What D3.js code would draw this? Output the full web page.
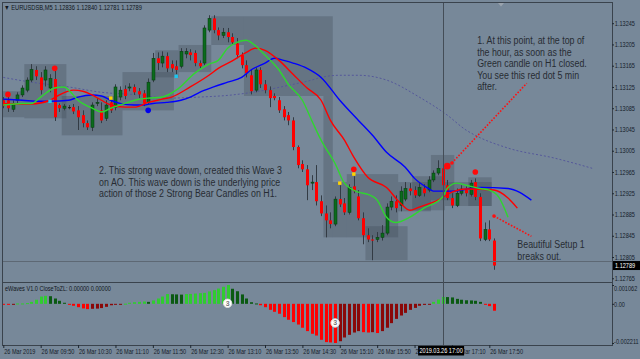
<!DOCTYPE html>
<html><head><meta charset="utf-8">
<script src="https://cdn.jsdelivr.net/npm/d3@7"></script>
<style>
html,body{margin:0;padding:0;background:#778899;overflow:hidden;}
svg{display:block;}
.ax text{font-family:"Liberation Sans",Arial,sans-serif;font-size:6.8px;fill:#16202a;}
.note{font-family:"Liberation Sans",Arial,sans-serif;font-size:10.8px;fill:#272c33;}
</style></head><body>
<svg id="c" width="640" height="359"></svg>
<script>
// ---------------- DATA ----------------
const symbolTitle = "EURUSDSB,M5";
const headerOHLC = ["1.12836", "1.12840", "1.12781", "1.12789"];
const indicatorTitle = "eWaves V1.0 CloseToZL: 0.00000 0.00000";
// M5 candles, bar 0 = 26 Mar 2019 09:10 ; [open, high, low, close]
const candles = [
[1.13100,1.13106,1.13085,1.13089],[1.13100,1.13108,1.13078,1.13085],[1.13083,1.13100,1.13078,1.13094],
[1.13100,1.13115,1.13093,1.13110],[1.13110,1.13128,1.13106,1.13123],[1.13119,1.13143,1.13115,1.13138],
[1.13138,1.13168,1.13134,1.13158],[1.13157,1.13164,1.13138,1.13145],[1.13143,1.13153,1.13111,1.13119],
[1.13138,1.13164,1.13126,1.13157],[1.13123,1.13149,1.13115,1.13141],[1.13140,1.13157,1.13061,1.13068],
[1.13091,1.13094,1.13078,1.13085],[1.13085,1.13093,1.13081,1.13089],[1.13087,1.13091,1.13083,1.13087],
[1.13087,1.13093,1.13074,1.13079],[1.13081,1.13089,1.13044,1.13068],[1.13072,1.13081,1.13049,1.13057],
[1.13057,1.13062,1.13044,1.13049],[1.13049,1.13096,1.13042,1.13091],[1.13094,1.13104,1.13089,1.13096],
[1.13081,1.13096,1.13057,1.13062],[1.13066,1.13100,1.13061,1.13091],[1.13096,1.13104,1.13076,1.13081],
[1.13087,1.13130,1.13081,1.13125],[1.13106,1.13126,1.13100,1.13119],[1.13121,1.13128,1.13102,1.13108],
[1.13123,1.13132,1.13117,1.13125],[1.13125,1.13130,1.13110,1.13115],[1.13117,1.13123,1.13104,1.13111],
[1.13113,1.13119,1.13089,1.13094],[1.13096,1.13141,1.13093,1.13134],[1.13138,1.13189,1.13134,1.13179],
[1.13179,1.13190,1.13157,1.13170],[1.13170,1.13192,1.13162,1.13183],[1.13183,1.13190,1.13153,1.13160],
[1.13168,1.13175,1.13153,1.13160],[1.13164,1.13175,1.13149,1.13157],[1.13164,1.13198,1.13160,1.13192],
[1.13187,1.13198,1.13179,1.13192],[1.13190,1.13196,1.13175,1.13185],[1.13189,1.13194,1.13164,1.13170],
[1.13170,1.13175,1.13160,1.13164],[1.13170,1.13241,1.13166,1.13236],[1.13232,1.13260,1.13228,1.13254],
[1.13254,1.13260,1.13226,1.13232],[1.13232,1.13237,1.13213,1.13222],[1.13222,1.13236,1.13217,1.13228],
[1.13228,1.13236,1.13209,1.13219],[1.13219,1.13226,1.13204,1.13209],[1.13207,1.13217,1.13179,1.13185],
[1.13185,1.13190,1.13160,1.13166],[1.13166,1.13175,1.13143,1.13151],[1.13147,1.13157,1.13111,1.13117],
[1.13119,1.13162,1.13115,1.13157],[1.13157,1.13162,1.13123,1.13130],[1.13130,1.13138,1.13113,1.13119],
[1.13119,1.13126,1.13087,1.13104],[1.13108,1.13113,1.13100,1.13104],[1.13100,1.13106,1.13076,1.13081],
[1.13083,1.13089,1.13062,1.13068],[1.13072,1.13078,1.13053,1.13062],[1.13062,1.13068,1.13006,1.13012],
[1.13012,1.13015,1.12972,1.12978],[1.12980,1.12987,1.12965,1.12970],[1.12970,1.12978,1.12912,1.12940],
[1.12944,1.12959,1.12931,1.12946],[1.12946,1.12978,1.12902,1.12910],[1.12910,1.12921,1.12882,1.12887],
[1.12887,1.12902,1.12842,1.12874],[1.12874,1.12889,1.12859,1.12867],[1.12867,1.12919,1.12863,1.12914],
[1.12914,1.12940,1.12899,1.12904],[1.12906,1.12916,1.12884,1.12889],[1.12889,1.12942,1.12885,1.12936],
[1.12938,1.12957,1.12925,1.12929],[1.12919,1.12931,1.12874,1.12878],[1.12878,1.12889,1.12829,1.12846],
[1.12846,1.12859,1.12833,1.12838],[1.12838,1.12846,1.12799,1.12836],[1.12838,1.12852,1.12833,1.12842],
[1.12842,1.12865,1.12836,1.12850],[1.12850,1.12906,1.12846,1.12899],[1.12899,1.12919,1.12893,1.12910],
[1.12910,1.12921,1.12889,1.12897],[1.12902,1.12938,1.12891,1.12929],[1.12914,1.12946,1.12910,1.12934],
[1.12934,1.12944,1.12921,1.12929],[1.12931,1.12938,1.12916,1.12921],[1.12921,1.12944,1.12918,1.12936],
[1.12934,1.12942,1.12919,1.12925],[1.12931,1.12957,1.12927,1.12950],[1.12950,1.12968,1.12946,1.12963],
[1.12963,1.12987,1.12959,1.12972],[1.12972,1.12980,1.12934,1.12940],[1.12940,1.12950,1.12912,1.12916],
[1.12916,1.12925,1.12897,1.12902],[1.12902,1.12934,1.12899,1.12925],[1.12925,1.12940,1.12921,1.12933],
[1.12931,1.12938,1.12919,1.12925],[1.12923,1.12950,1.12919,1.12944],[1.12946,1.12953,1.12912,1.12918],
[1.12918,1.12925,1.12835,1.12840],[1.12838,1.12870,1.12835,1.12857],[1.12857,1.12874,1.12835,1.12838],
[1.12836,1.12840,1.12781,1.12789]
];
// oscillator histogram, one value per bar
const aoValues = [
-0.00004,-0.00004,-0.00002,0.00002,0.00002,0.00004,0.00011,0.00023,0.00041,0.00045,
0.00043,0.00030,0.00017,0.00006,-0.00004,-0.00011,-0.00019,-0.00026,-0.00030,-0.00028,
-0.00027,-0.00024,-0.00017,-0.00008,-0.00004,-0.00002,0.00001,0.00006,0.00009,0.00011,
0.00013,0.00011,0.00019,0.00030,0.00041,0.00055,0.00054,0.00053,0.00052,0.00055,
0.00056,0.00058,0.00060,0.00062,0.00070,0.00077,0.00086,0.00096,0.00106,0.00085,
0.00071,0.00053,0.00030,0.00009,0.00002,-0.00008,-0.00019,-0.00034,-0.00045,-0.00056,
-0.00075,-0.00090,-0.00103,-0.00117,-0.00135,-0.00154,-0.00169,-0.00179,-0.00203,-0.00216,
-0.00218,-0.00221,-0.00211,-0.00190,-0.00175,-0.00162,-0.00154,-0.00160,-0.00162,-0.00160,
-0.00165,-0.00154,-0.00135,-0.00109,-0.00085,-0.00066,-0.00051,-0.00034,-0.00023,-0.00011,
-0.00006,-0.00001,0.00011,0.00024,0.00039,0.00038,0.00036,0.00028,0.00023,0.00020,
0.00019,0.00017,0.00011,-0.00002,-0.00013,-0.00039
];
// moving averages: [bar, price] (shifted ones run past the last bar)
const maFast = [[0,1.13091],[4,1.13094],[6,1.13094],[8,1.13106],[11,1.13123],[13,1.13125],[14,1.13119],[16,1.13100],
[19,1.13085],[21,1.13078],[23,1.13085],[26,1.13094],[29,1.13102],[31,1.13104],[34,1.13106],[37,1.13119],[41,1.13151],
[44,1.13168],[46,1.13175],[48,1.13198],[50,1.13209],[52,1.13213],[53,1.13209],[56,1.13185],[59,1.13157],[61,1.13130],
[64,1.13100],[66,1.13062],[68,1.13025],[71,1.12981],[73,1.12944],[76,1.12927],[78,1.12923],[80,1.12912],[82,1.12880],
[84,1.12870],[87,1.12880],[90,1.12897],[94,1.12918],[95,1.12934],[97,1.12944],[99,1.12940],[102,1.12934],[104,1.12931],
[106,1.12918],[108,1.12880]];
const maMid = [[0,1.13094],[2,1.13093],[6,1.13093],[10,1.13100],[12,1.13110],[15,1.13119],[17,1.13117],[19,1.13110],
[21,1.13100],[23,1.13091],[26,1.13087],[28,1.13087],[31,1.13096],[34,1.13102],[36,1.13106],[40,1.13125],[44,1.13147],
[46,1.13160],[49,1.13174],[52,1.13190],[54,1.13198],[56,1.13194],[59,1.13175],[62,1.13149],[65,1.13123],[68,1.13100],
[70,1.13062],[73,1.13025],[75,1.12993],[78,1.12955],[82,1.12936],[85,1.12906],[87,1.12893],[89,1.12899],[93,1.12912],
[96,1.12927],[99,1.12933],[105,1.12931],[108,1.12916],[110,1.12897]];
const maSlow = [[0,1.13102],[4,1.13100],[8,1.13098],[10,1.13098],[14,1.13100],[16,1.13106],[19,1.13110],[21,1.13108],
[23,1.13100],[25,1.13094],[28,1.13091],[30,1.13091],[32,1.13094],[35,1.13096],[38,1.13100],[40,1.13106],[42,1.13115],
[45,1.13125],[48,1.13134],[51,1.13143],[53,1.13157],[56,1.13170],[58,1.13179],[60,1.13175],[62,1.13170],[65,1.13160],
[68,1.13143],[72,1.13100],[76,1.13062],[79,1.13034],[82,1.13002],[86,1.12974],[88,1.12953],[91,1.12934],[92,1.12929],
[96,1.12929],[102,1.12936],[108,1.12934],[113,1.12912]];
const maLong = [[0,1.13143],[6,1.13134],[14,1.13125],[21,1.13115],[29,1.13110],[35,1.13104],[42,1.13106],[49,1.13110],
[56,1.13119],[61,1.13128],[66,1.13138],[68,1.13143],[72,1.13147],[76,1.13147],[82,1.13138],[89,1.13106],[95,1.13072],
[99,1.13044],[101,1.13034],[108,1.13010],[118,1.12991],[126,1.12972]];
// higher-timeframe candle zones: [firstBar, lastBar, high, low]
const h1Boxes = [[0,4,1.13117,1.13068],[5,13,1.13168,1.13066],[13,25,1.13108,1.13034],[26,36,1.13153,1.13081],
[33,37,1.13194,1.13143],[38,44,1.13204,1.13153],[45,51,1.13258,1.13204],[52,70,1.13258,1.13108],[69,70,1.13108,1.12842],
[71,73,1.12946,1.12842],[74,84,1.12961,1.12842],[78,86,1.12863,1.12799],[85,91,1.12946,1.12891],[88,94,1.12957,1.12893],
[92,96,1.12997,1.12912],[95,104,1.12946,1.12901],[100,104,1.12955,1.12901]];
// signals
const redDots = [[1,1.13111],[11,1.13160],[75,1.12970],[101,1.12965]];
const bigRedDots = [[95,1.12976]];
const yellowMarks = [[23,1.13104],[72,1.12944],[75,1.12961]];
const cyanMarks = [[10,1.13098],[37,1.13145]];
const blueDots = [[31,1.13081]];
const waveLabels = [[48,0.00003,"3"],[71,-0.00108,"3"]];
// drawn annotation lines: [bar1, price1, bar2, price2]
const arrowLines = [[96,1.12982,112,1.13132],[105,1.12882,113,1.12844]];
const notes = [
  {bar:101.4, price:1.13206, lines:["1. At this point, at the top of","the hour, as soon as the","Green candle on H1 closed.","You see this red dot 5 min","after."]},
  {bar:20.5, price:1.12961, lines:["2. This strong wave down, created this Wave 3","on AO. This wave down is the underlying price","action of those 2 Strong Bear Candles on H1."]},
  {bar:110, price:1.12822, lines:["Beautiful Setup 1","breaks out."]}
];
const priceTicks = [1.13245,1.13205,1.13165,1.13125,1.13085,1.13045,1.13005,1.12965,1.12925,1.12885,1.12845,1.12805,1.12765];
const aoTicks = [0.001062, 0, -0.002211];
const aoTickLabels = ["0.001062", "0.00", "-0.002211"];
const timeTickBars = [0,8,16,24,32,40,48,56,64,72,80,88,96,104];
const timeLabels = ["26 Mar 2019","26 Mar 09:50","26 Mar 10:30","26 Mar 11:10","26 Mar 11:50","26 Mar 12:30","26 Mar 13:10",
  "26 Mar 13:50","26 Mar 14:30","26 Mar 15:10","26 Mar 15:50","26 Mar 16:30","26 Mar 17:10","26 Mar 17:50"];
const crossBar = 94, crossLabel = "2019.03.26 17:00", crossPrice = 1.12798;
const bidPrice = 1.12789;
const shiftMarkBar = 106.5;

// ---------------- LAYOUT ----------------
const L = 3, R = 612, MT = 3, MB = 282, ST = 283, SB = 345;
const NARROW = "scale(0.82,1)";
const svg = d3.select("#c");
const x = d3.scaleLinear().domain([0, 105]).range([3.3, 494]);
const y = d3.scaleLinear().domain([1.12758, 1.13283]).range([MB, MT]);
const ya = d3.scaleLinear().domain([-0.002211, 0.001062]).range([343, 285]);
const step = x(1) - x(0);
const FONT = '"Liberation Sans",Arial,sans-serif';

function ntext(parent, px, py, str, size, fill, anchor) {
  const g = parent.append("g").attr("transform", `translate(${px},${py})`);
  return g.append("text").attr("transform", NARROW).attr("font-family", FONT).attr("font-size", size)
    .attr("fill", fill).attr("text-anchor", anchor || "start").text(str);
}

svg.append("rect").attr("width", 640).attr("height", 359).attr("fill", "#778899");
const defs = svg.append("defs");
defs.append("clipPath").attr("id", "cm").append("rect").attr("x", L).attr("y", MT).attr("width", R - L).attr("height", MB - MT);
defs.append("clipPath").attr("id", "cs").append("rect").attr("x", L).attr("y", ST).attr("width", R - L).attr("height", SB - ST);

const gm = svg.append("g").attr("clip-path", "url(#cm)");
// zones
gm.selectAll("rect.box").data(h1Boxes).join("rect")
  .attr("x", d => x(d[0]) - step / 2).attr("width", d => x(d[1]) - x(d[0]) + step)
  .attr("y", d => y(d[2])).attr("height", d => y(d[3]) - y(d[2]))
  .attr("fill", "#3b4652").attr("opacity", 0.3);

// long MA (dotted)
const line = d3.line().x(d => x(d[0])).y(d => y(d[1])).curve(d3.curveMonotoneX);
gm.append("path").attr("d", line(maLong)).attr("fill", "none").attr("stroke", "#55589a").attr("stroke-width", 1).attr("stroke-dasharray", "2,2");

// candles
const cg = gm.append("g");
cg.selectAll("line.w").data(candles).join("line")
  .attr("x1", (d, i) => Math.round(x(i)) + 0.5).attr("x2", (d, i) => Math.round(x(i)) + 0.5)
  .attr("y1", d => y(d[1])).attr("y2", d => y(d[2])).attr("stroke", "#333b44").attr("stroke-width", 1);
cg.selectAll("rect.b").data(candles).join("rect")
  .attr("x", (d, i) => Math.round(x(i)) - 1).attr("width", 3)
  .attr("y", d => y(Math.max(d[0], d[3])))
  .attr("height", d => Math.max(1, Math.abs(y(d[0]) - y(d[3]))))
  .attr("fill", d => d[3] < d[0] ? "#ff0000" : (d[3] > d[0] ? "#0b6b1c" : "#1a1a1a"))
  .attr("stroke", d => d[3] > d[0] ? "#06380e" : "none").attr("stroke-width", 0.5);

// MAs
[[maSlow, "#0000ff"], [maMid, "#ff0000"], [maFast, "#2fd62f"]].forEach(([data, col]) => {
  gm.append("path").attr("d", line(data)).attr("fill", "none").attr("stroke", col).attr("stroke-width", 1.4);
});

// annotation lines
arrowLines.forEach(a => {
  gm.append("line").attr("x1", x(a[0])).attr("y1", y(a[1])).attr("x2", x(a[2])).attr("y2", y(a[3]))
    .attr("stroke", "#ff1010").attr("stroke-width", 1.6).attr("stroke-dasharray", "1.6,1.6");
  gm.append("circle").attr("cx", x(a[0])).attr("cy", y(a[1])).attr("r", 1.8).attr("fill", "#ff1010");
});

// markers
gm.selectAll("circle.rd").data(redDots).join("circle").attr("cx", d => x(d[0])).attr("cy", d => y(d[1])).attr("r", 2.8).attr("fill", "#ff0a0a");
gm.selectAll("circle.brd").data(bigRedDots).join("circle").attr("cx", d => x(d[0])).attr("cy", d => y(d[1])).attr("r", 3.3).attr("fill", "#ff0a0a");
gm.selectAll("circle.bd").data(blueDots).join("circle").attr("cx", d => x(d[0])).attr("cy", d => y(d[1])).attr("r", 2.8).attr("fill", "#0000ee");
gm.selectAll("rect.ym").data(yellowMarks).join("rect").attr("x", d => x(d[0]) - 1.7).attr("y", d => y(d[1]) - 1.7).attr("width", 3.4).attr("height", 3.4).attr("fill", "#ffd200");
gm.selectAll("rect.cm").data(cyanMarks).join("rect").attr("x", d => x(d[0]) - 1.7).attr("y", d => y(d[1]) - 1.7).attr("width", 3.4).attr("height", 3.4).attr("fill", "#19c8f0");

// notes
notes.forEach(n => {
  const g = svg.append("g").attr("transform", `translate(${x(n.bar)},${y(n.price)})`);
  const t = g.append("text").attr("class", "note").attr("transform", NARROW);
  n.lines.forEach((s, k) => t.append("tspan").attr("x", 0).attr("dy", k === 0 ? 0 : 11.6).text(s));
});

// sub window histogram
const gs = svg.append("g").attr("clip-path", "url(#cs)");
gs.selectAll("rect.ao").data(aoValues).join("rect")
  .attr("x", (d, i) => Math.round(x(i)) - 1).attr("width", 3)
  .attr("y", d => Math.min(ya(d), ya(0)))
  .attr("height", d => Math.max(1, Math.abs(ya(d) - ya(0))))
  .attr("fill", (d, i) => {
    const p = i > 0 ? aoValues[i - 1] : d;
    if (d >= 0) return d >= p ? "#30cc30" : "#0a5a12";
    return d <= p ? "#ff0000" : "#8a0808";
  });
waveLabels.forEach(w => {
  gs.append("circle").attr("cx", x(w[0])).attr("cy", ya(w[1])).attr("r", 4.2).attr("fill", "#ffffff").attr("stroke", "#dddddd");
  gs.append("text").attr("x", x(w[0])).attr("y", ya(w[1]) + 2.4).attr("text-anchor", "middle")
    .attr("font-family", FONT).attr("font-size", 7).attr("font-weight", "bold").attr("fill", "#777").text(w[2]);
});

// frames
const frame = "#3a434d";
svg.append("rect").attr("x", L - 0.5).attr("y", MT - 0.5).attr("width", R - L + 1).attr("height", SB - MT + 1).attr("fill", "none").attr("stroke", frame);
svg.append("line").attr("x1", L).attr("x2", R).attr("y1", MB + 0.5).attr("y2", MB + 0.5).attr("stroke", frame);

// crosshair
svg.append("line").attr("x1", Math.round(x(crossBar)) + 0.5).attr("x2", Math.round(x(crossBar)) + 0.5).attr("y1", MT).attr("y2", SB).attr("stroke", "#444d57");
svg.append("line").attr("x1", L).attr("x2", R).attr("y1", Math.round(y(crossPrice)) + 0.5).attr("y2", Math.round(y(crossPrice)) + 0.5).attr("stroke", "#5d6874");

// chart shift marker
const sx = x(shiftMarkBar);
svg.append("path").attr("d", `M${sx - 3},${MT} L${sx + 3},${MT} L${sx},${MT + 3.5} Z`).attr("fill", "#9aa4ae");

// axes
const ay = svg.append("g").attr("class", "ax").attr("transform", `translate(${R},0)`)
  .call(d3.axisRight(y).tickValues(priceTicks).tickFormat(d3.format(".5f")).tickSize(2).tickPadding(1));
ay.select(".domain").remove();
ay.selectAll("line").attr("stroke", "#1e2730");
ay.selectAll("text").attr("transform", NARROW).attr("x", 3.5);
const aa = svg.append("g").attr("class", "ax").attr("transform", `translate(${R},0)`)
  .call(d3.axisRight(ya).tickValues(aoTicks).tickFormat((d, i) => aoTickLabels[i]).tickSize(2).tickPadding(1));
aa.select(".domain").remove();
aa.selectAll("line").attr("stroke", "#1e2730");
aa.selectAll("text").attr("transform", NARROW).attr("x", 2.5);
aa.selectAll(".tick").filter((d, i) => i === 0).select("text").attr("dy", "0.75em");
aa.selectAll(".tick").filter((d, i) => i === 2).select("text").attr("dy", "0.05em");

const at = svg.append("g").attr("class", "ax").attr("transform", `translate(0,${SB})`)
  .call(d3.axisBottom(x).tickValues(timeTickBars).tickFormat((d, i) => timeLabels[i]).tickSize(3).tickPadding(1));
at.select(".domain").remove();
at.selectAll("line").attr("stroke", "#1e2730");
at.selectAll("text").attr("text-anchor", "start").attr("transform", NARROW).attr("x", 0.5);

// bid label
const by = y(bidPrice);
svg.append("rect").attr("x", R + 1).attr("y", by - 4.5).attr("width", 27).attr("height", 9).attr("fill", "#000");
ntext(svg, R + 3, by + 2.4, bidPrice.toFixed(5), 6.8, "#fff");

// crosshair time label
const cx = x(crossBar);
svg.append("rect").attr("x", cx - 24.5).attr("y", SB + 1).attr("width", 46).attr("height", 9.5).attr("fill", "#000");
ntext(svg, cx - 1.5, SB + 8.4, crossLabel, 6.8, "#fff", "middle");

// titles
ntext(svg, 4, 10, "\u25BC " + symbolTitle + "  " + headerOHLC.join(" "), 7, "#10161c");
ntext(svg, 5, 291, indicatorTitle, 6.8, "#10161c");
</script>
</body></html>
